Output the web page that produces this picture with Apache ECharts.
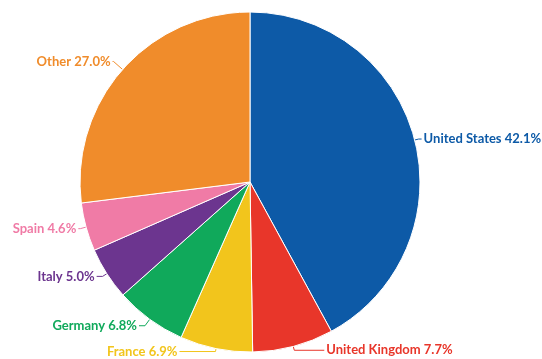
<!DOCTYPE html>
<html><head><meta charset="utf-8">
<script src="https://cdn.jsdelivr.net/npm/echarts@6/dist/echarts.min.js"></script>
<style>html,body{margin:0;padding:0;background:#fff}#c{width:542px;height:359px}</style>
</head><body><div id="c"></div>
<script>
const categories = ["United States","United Kingdom","France","Germany","Italy","Spain","Other"];
const values = [42.1,7.7,6.9,6.8,5.0,4.6,27.0];
const colors = ["#0d5aa7","#e8362a","#f2c51c","#10a95b","#6c358f","#f07ba6","#f08c2b"];
const lineLen = [4,4,3,8,5,6,12];
const lineLen2 = [3,30,36,6,6,2,1];
const chart = echarts.init(document.getElementById('c'));
chart.setOption({
  animation:false,
  series:[{
    type:'pie',
    center:[250,182],
    radius:[0,170],
    startAngle:90,
    clockwise:true,
    avoidLabelOverlap:false,
    data:categories.map((n,i)=>({name:n,value:values[i],itemStyle:{color:colors[i]},
      label:{color:colors[i]},
      labelLine:{length:lineLen[i],length2:lineLen2[i],lineStyle:{color:colors[i]}}})),
    itemStyle:{borderColor:'#fff',borderWidth:1},
    label:{formatter:p=>p.name+' '+p.value.toFixed(1)+'%',fontFamily:'Lato',fontWeight:'bold',fontSize:13,padding:0,distanceToLabelLine:2,overflow:'none'},
    labelLine:{lineStyle:{width:1}},
    labelLayout:{hideOverlap:false}
  }]
});
</script></body></html>
